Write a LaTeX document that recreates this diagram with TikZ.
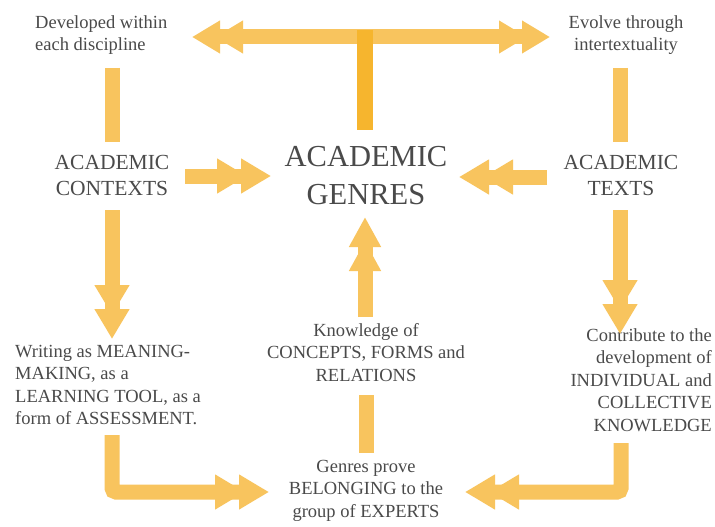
\documentclass[tikz,border=0pt]{standalone}
\usepackage{fontspec}
\setmainfont{LiberationSerif}[Extension=.ttf, UprightFont=*-Regular, BoldFont=*-Bold]
\usetikzlibrary{arrows.meta}
\definecolor{arr}{HTML}{F8C45E}
\definecolor{stemc}{HTML}{F6B52E}
\definecolor{txt}{HTML}{4A4A4A}
\tikzset{
  bar/.style={draw=arr, line width=15pt},
  dbl/.style={bar, -{Triangle[length=30pt,width=33pt,sep=-6pt]Triangle[length=30pt,width=33pt,sep=-6pt]}},
  dblboth/.style={bar, {Triangle[length=28pt,width=31pt,sep=-5pt]Triangle[length=28pt,width=31pt,sep=-5pt]}-{Triangle[length=28pt,width=31pt,sep=-5pt]Triangle[length=28pt,width=31pt,sep=-5pt]}},
  lbl/.style={text=txt, inner sep=0pt, font=\rmfamily\fontsize{18.5}{22.5}\selectfont},
  mid/.style={text=txt, inner sep=0pt, font=\rmfamily\fontsize{21.5}{26}\selectfont, align=center},
  big/.style={text=txt, inner sep=0pt, font=\rmfamily\fontsize{30.5}{38}\selectfont, align=center},
}
\begin{document}
\begin{tikzpicture}[x=1pt,y=-1pt]
\useasboundingbox[fill=white] (0,0) rectangle (715,527);
% text nodes
\node[lbl, align=left, anchor=north west] (dev) at (35,15) {Developed within\\each discipline};
\node[lbl, align=center, anchor=north] (evo) at (626,15) {Evolve through\\intertextuality};
\node[mid, anchor=north] (ctx) at (112,155) {ACADEMIC\\CONTEXTS};
\node[big, anchor=north] (gen) at (366,146) {ACADEMIC\\GENRES};
\node[mid, anchor=north] (txts) at (621,155) {ACADEMIC\\TEXTS};
\node[lbl, align=left, anchor=north west] (wri) at (15,345) {Writing as MEANING-\\MAKING, as a\\LEARNING TOOL, as a\\form of ASSESSMENT.};
\node[lbl, align=center, anchor=north] (know) at (366,323) {Knowledge of\\CONCEPTS, FORMS and\\RELATIONS};
\node[lbl, align=right, anchor=north east] (con) at (712,328) {Contribute to the\\development of\\INDIVIDUAL and\\COLLECTIVE\\KNOWLEDGE};
\node[lbl, align=center, anchor=north] (bel) at (366,460) {Genres prove\\BELONGING to the\\group of EXPERTS};
% connector end points
\coordinate (tL) at (197,37);
\coordinate (tR) at (545,37);
\coordinate (tJ) at (365,30);
\coordinate (tS) at (365,130);
\coordinate (lA) at (112,68);
\coordinate (lB) at (112,142);
\coordinate (rA) at (620,68);
\coordinate (rB) at (620,142);
\coordinate (cA) at (185,176);
\coordinate (cB) at (265,176);
\coordinate (xA) at (547,177);
\coordinate (xB) at (465,177);
\coordinate (ldA) at (112,210);
\coordinate (ldB) at (112,333);
\coordinate (rdA) at (620,210);
\coordinate (rdB) at (620,328);
\coordinate (uA) at (365,317);
\coordinate (uB) at (365,223);
\coordinate (mA) at (366,395);
\coordinate (mB) at (366,453);
\coordinate (lLA) at (112,435);
\coordinate (lLB) at (263,492);
\coordinate (rLA) at (621,443);
\coordinate (rLB) at (471,492);
% connectors
\draw[dblboth] (tL) -- (tR);
\draw[bar, draw=stemc, line width=16pt] (tJ) -- (tS);
\draw[bar] (lA) -- (lB);
\draw[bar] (rA) -- (rB);
\draw[dbl] (cA) -- (cB);
\draw[dbl] (xA) -- (xB);
\draw[dbl] (ldA) -- (ldB);
\draw[dbl] (rdA) -- (rdB);
\draw[bar, -{Triangle[length=30pt,width=30pt,sep=-6pt]Triangle[length=30pt,width=30pt,sep=-6pt]}] (uA) -- (uB);
\draw[bar] (mA) -- (mB);
\draw[dbl, rounded corners=4pt] (lLA) |- (lLB);
\draw[dbl, rounded corners=4pt] (rLA) |- (rLB);
\end{tikzpicture}
\end{document}
